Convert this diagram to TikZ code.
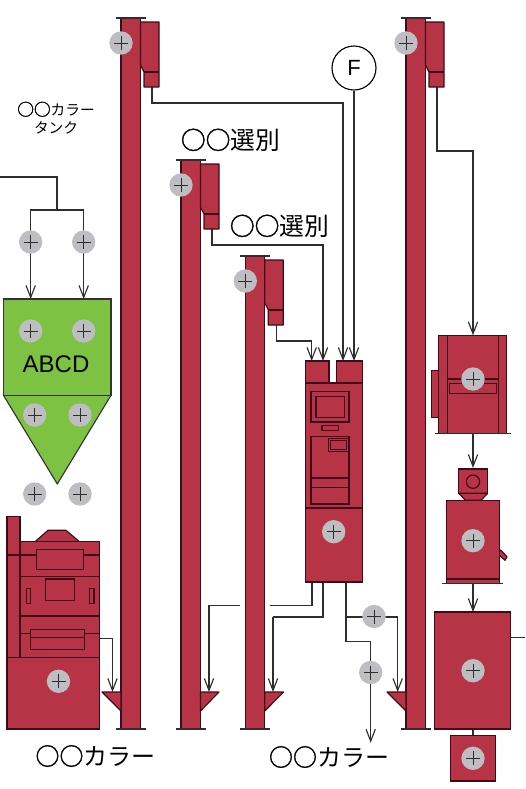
\documentclass[tikz,border=0pt]{standalone}
\usepackage{fontspec}
\setmainfont{Liberation Sans}
\newfontfamily\cjk{Noto Sans CJK JP}
\newfontfamily\cjkb[FakeBold=1.6]{Noto Sans CJK JP}
\usetikzlibrary{arrows.meta,calc,backgrounds}
\definecolor{mred}{HTML}{B73446}
\definecolor{mdark}{HTML}{3E0C18}
\definecolor{mgreen}{HTML}{7DC242}
\definecolor{mgrey}{HTML}{BEBEC2}
\definecolor{mline}{HTML}{2E2E2E}
\tikzset{
  rbox/.style={draw=mdark,fill=mred,line width=.85pt,inner sep=0pt,outer sep=0pt,rectangle},
  rshape/.style={draw=mdark,fill=mred,line width=.85pt,line join=round},
  detail/.style={draw=mdark,line width=.85pt},
  heavy/.style={draw=mdark,line width=1.2pt},
  capline/.style={draw=mline,line width=.85pt},
  conn/.style={draw=mline,line width=.85pt},
  flow/.style={conn,-{Straight Barb[length=9pt,width=7pt,line width=.85pt]}},
  greenshape/.style={draw=black!80,fill=mgreen,line width=.85pt,line join=round},
  plusmark/.style={circle,fill=mgrey,minimum size=17.5pt,inner sep=0pt,outer sep=0pt,
    path picture={
      \draw[mline,line width=.75pt] ($(path picture bounding box.center)+(-7,0)$) -- ($(path picture bounding box.center)+(7,0)$);
      \draw[mline,line width=.75pt] ($(path picture bounding box.center)+(0,-7)$) -- ($(path picture bounding box.center)+(0,7)$);
    }},
  jpbig/.style={font=\cjk\fontsize{18}{20}\selectfont,inner sep=0pt},
  jpsel/.style={font=\cjk\fontsize{18.6}{20}\selectfont,inner sep=0pt},
  jpsmall/.style={font=\cjk\fontsize{11}{13.5}\selectfont,inner sep=0pt,align=center},
}
\newcommand\oo{{\cjkb ○○}}
\newcommand\pbox[6][]{\node[rbox,#1,minimum width={(#5-#3)*0.75pt},minimum height={(#6-#4)*0.75pt}] (#2) at ({(#3+#5)/2},{(#4+#6)/2}) {};}
\newcommand\pl[3]{\node[plusmark] (#1) at (#2,#3) {};}
\newcommand\elev[3]{%
  \pbox{#1shaft}{#2}{#3}{#2+19.5}{729}
  \draw[capline] (#2-5,#3) -- (#2+24.5,#3);
  \draw[capline] (#2-5,729) -- (#2+24.5,729);
  \begin{scope}[shift={(#2,#3)}]
    \draw[rshape] (19.5,4) -- (38,4) -- (38,69) -- (23,69) -- (23,54) -- (19.5,47) -- cycle;
    \draw[heavy] (23,54) -- (38,54);
    \coordinate (#1out) at (31,69);
    \pl{#1pl}{0}{25}
  \end{scope}}
\begin{document}
\begin{tikzpicture}[x=0.75pt,y=-0.75pt]
\useasboundingbox (0,0) rectangle (525,789);
\elev{ea}{121}{18}
\elev{eb}{181}{160}
\elev{ec}{245.3}{256}
\elev{ed}{406}{18}
\draw[rshape] (102,692) -- (121,692) -- (121,711) -- cycle;
\draw[rshape] (200.5,692) -- (219,692) -- (200.5,711) -- cycle;
\draw[rshape] (264.8,692) -- (283.5,692) -- (264.8,711) -- cycle;
\draw[rshape] (387,692) -- (406,692) -- (406,711) -- cycle;
\coordinate (ha) at (112.5,692);
\coordinate (hb) at (209,692);
\coordinate (hc) at (273,692);
\coordinate (hd) at (397.7,692);
\node[circle,draw=black,fill=white,line width=.85pt,minimum size=33pt,inner sep=0pt,font=\fontsize{16.5}{18}\selectfont] (fm) at (354,68) {F};
\draw[greenshape] (3.5,395.3) -- (111,395.3) -- (57.3,484) -- cycle;
\pbox[draw=black!80,fill=mgreen]{tank}{3.5}{299}{111}{395.3}
\coordinate (tl) at (30.7,299);
\coordinate (tr) at (83.7,299);
\node[font=\fontsize{18}{20}\selectfont,inner sep=0pt] (abcd) at (56,364) {ABCD};
\pl{pta}{30.7}{242}\pl{ptb}{83.7}{242}
\pl{ptc}{30.7}{331}\pl{ptd}{83.7}{331}
\pl{pte}{34.7}{415}\pl{ptf}{80}{415}
\pl{ptg}{34.7}{494}\pl{pth}{80}{494}
\pbox{lbase}{7}{657.3}{99.5}{729}
\pbox{lcol}{7}{516.7}{20}{657.3}
\draw[rshape] (35,541.7) -- (48,530.3) -- (66,530.3) -- (79.5,541.7) -- cycle;
\pbox{lbody}{20}{541.7}{99.5}{657.3}
\draw[detail] (7,555) -- (99.5,555);
\pbox{la}{36.7}{549.3}{83.3}{569.3}
\draw[heavy] (20,576.3) -- (99.5,576.3);
\pbox{lb}{45.3}{579}{74.7}{600.7}
\pbox{lc}{26.3}{588.3}{30.7}{603.7}
\pbox{ld}{89.3}{588.3}{94}{603.7}
\draw[heavy] (20,615.7) -- (99.5,615.7);
\draw[detail] (20,633.3) -- (99.5,633.3);
\pbox{le}{30.3}{629.3}{84.3}{649.3}
\draw[detail] (30.3,637.3) -- (84.3,637.3);
\pl{plm}{58.5}{681.3}
\coordinate (lout) at (99.5,638.7);
\pbox{ctl}{305.5}{361}{329}{383}
\pbox{ctr}{336.5}{361}{362.5}{383}
\pbox{cup}{305.5}{383}{362.5}{508}
\pbox{clo}{305.5}{508}{362.5}{582}
\pbox{ca}{311}{391.7}{349}{422}
\pbox{cb}{316}{396.3}{344.7}{417.3}
\pbox{cc}{322}{425.3}{338.3}{430.7}
\pbox{cd}{311}{436.3}{349}{504}
\pbox{ce}{328.3}{438.3}{348.3}{451.3}
\pbox{cf}{330.3}{440.3}{346.3}{449.3}
\draw[heavy] (311,478) -- (349,478);
\draw[detail] (311,487.3) -- (349,487.3);
\pl{pcm}{333.7}{531.7}
\coordinate (ia) at (311.7,361);
\coordinate (ib) at (323,361);
\coordinate (ic) at (343,361);
\coordinate (id) at (354,361);
\coordinate (oa) at (312,582);
\coordinate (ob) at (323,582);
\coordinate (oc) at (346,582);
\coordinate (ba) at (270,605.5);
\coordinate (bb) at (240,605.5);
\coordinate (bc) at (230,605.5);
\coordinate (bd) at (273,617);
\coordinate (be) at (346,617);
\coordinate (bf) at (346,641.7);
\pl{pcr}{374}{616.5}
\pl{pcs}{370.7}{672.5}
\coordinate (cend) at (370.7,742.7);
\pbox{ra}{438.7}{335.3}{506.7}{433.3}
\pbox{rap}{431.7}{370.3}{438.7}{417.3}
\draw[detail] (447.3,335.3) -- (447.3,433.3);
\draw[detail] (498.3,335.3) -- (498.3,433.3);
\draw[heavy] (447.3,379) -- (498.3,379);
\pbox{rar}{449.3}{383.3}{496.7}{393.7}
\pl{pra}{473}{379}
\draw[capline] (435,433.3) -- (510.7,433.3);
\coordinate (rain) at (473,335.3);
\coordinate (raout) at (473,433.3);
\pbox{rb}{458.7}{469}{487.7}{493.3}
\draw[rshape] (458.7,493.3) -- (487.7,493.3) -- (481,500.3) -- (465.5,500.3) -- cycle;
\node[circle,draw=mdark,line width=.85pt,minimum size=10pt,inner sep=0pt] (rbc) at (473,481.7) {};
\coordinate (rbin) at (473,468);
\draw[rshape] (499,551.7) -- (500.7,550) -- (507,556.7) -- (505,560.3) -- (499,555) -- cycle;
\pbox{rc}{446.3}{500.3}{499.3}{583.3}
\draw[heavy] (446.3,579) -- (499.3,579);
\draw[capline] (442.3,583.3) -- (503.3,583.3);
\pl{prc}{473}{540.7}
\coordinate (rcout) at (473,583.3);
\pbox{rd}{434.3}{612}{510.7}{729}
\pl{prd}{473}{670.7}
\coordinate (rdin) at (473,612);
\coordinate (rdr) at (510.7,637.3);
\coordinate (rdend) at (525,637.3);
\pbox{re}{450.3}{735.7}{495.3}{781}
\pl{pre}{473}{758.3}
\coordinate (rdout) at (473,729);
\coordinate (rein) at (473,735.7);
\coordinate (ts) at (0,177);
\coordinate (tj) at (57,210);
\node[jpsmall] (ltank) at (56,118) {{\cjkb\fontsize{12.5}{13.5}\selectfont ○○}カラー\\タンク};
\node[jpsel] (lsa) at (230.5,140) {\oo 選別};
\node[jpsel] (lsb) at (279.5,226) {\oo 選別};
\node[jpbig] (lca) at (95.5,756) {\oo カラー};
\node[jpbig] (lcb) at (329,757) {\oo カラー};
\begin{scope}[on background layer]
\draw[flow] (eaout) |- (ic |- 0,103) -- (ic);
\draw[flow] (fm.south) -- (id);
\draw[flow] (ebout) |- (ib |- 0,245) -- (ib);
\draw[flow] (ecout) |- (ia |- 0,341) -- (ia);
\draw[flow] (edout) |- (rain |- 0,151) -- (rain);
\draw[conn] (ts) -| (tj);
\draw[conn] (pta.center) |- (tj) -| (ptb.center);
\draw[flow] (pta.center) -- (tl);
\draw[flow] (ptb.center) -- (tr);
\draw[flow] (lout) -| (ha);
\draw[flow] (bb) -| (hb);
\draw[conn] (oa) |- (ba);
\draw[conn] (bc) -- (bb);
\draw[conn] (ob) |- (bd);
\draw[flow] (bd) -- (hc);
\draw[conn] (oc) -- (bf);
\draw[flow] (bf) -| (cend);
\draw[flow] (be) -| (hd);
\draw[flow] (raout) -- (rbin);
\draw[flow] (rcout) -- (rdin);
\draw[conn] (rdout) -- (rein);
\draw[conn] (rdr) -- (rdend);
\end{scope}
\end{tikzpicture}
\end{document}
